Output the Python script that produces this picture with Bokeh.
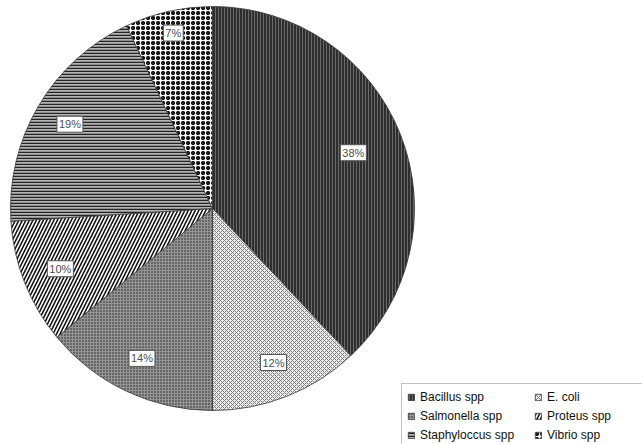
import math
from bokeh.plotting import figure
from bokeh.models import ColumnDataSource, Range1d
from bokeh.core.properties import value
from bokeh.embed import file_html
from bokeh.resources import INLINE

# ---- data ----
names = ["Bacillus spp", "E. coli", "Salmonella spp", "Proteus spp", "Staphyloccus spp", "Vibrio spp"]
percents = [38, 12, 14, 10, 19, 7]

# ---- styles ----
fill_colors = ["#2e2e2e", "#ececec", "#959595", "#ffffff", "#b4b4b4", "#ffffff"]
hatch_patterns = ["vertical_line", "diagonal_cross", "dot", "right_diagonal_line", "horizontal_line", "ring"]
hatch_colors = ["#6a6a6a", "#808080", "#202020", "#111111", "#222222", "#000000"]
hatch_scales = [3, 4, 3, 7, 3, 5]
hatch_weights = [1, 1, 0.8, 1.6, 1.5, 1.6]
label_radius = [0.75, 0.82, 0.82, 0.81, 0.82, 0.89]

W, H = 642, 444
CX, CY, R = 212, H - 208, 202
FONT = "Liberation Sans"

total = sum(percents)
starts, ends, lx, ly, labels = [], [], [], [], []
cum = 0.0
for i, v in enumerate(percents):
    a0 = cum / total
    cum += v
    a1 = cum / total
    starts.append(math.pi / 2 - a0 * 2 * math.pi)
    ends.append(math.pi / 2 - a1 * 2 * math.pi)
    mid = (a0 + a1) / 2 * 2 * math.pi
    lx.append(CX + label_radius[i] * R * math.sin(mid))
    ly.append(CY + label_radius[i] * R * math.cos(mid))
    labels.append(f"{v}%")

src = ColumnDataSource(dict(
    name=names, start=starts, end=ends,
    fill=fill_colors, hp=hatch_patterns, hc=hatch_colors, hs=hatch_scales, hw=hatch_weights,
))
lsrc = ColumnDataSource(dict(x=lx, y=ly, text=labels))

p = figure(width=W, height=H, output_backend="svg", toolbar_location=None,
           x_range=Range1d(0, W), y_range=Range1d(0, H),
           x_axis_type=None, y_axis_type=None, min_border=0)
p.outline_line_color = None
p.grid.visible = False
p.background_fill_color = "white"

p.wedge(x=CX, y=CY, radius=R, start_angle="start", end_angle="end", direction="clock",
        source=src, fill_color="fill", hatch_pattern="hp", hatch_color="hc",
        hatch_scale="hs", hatch_weight="hw", line_color="#3a3a3a", line_width=0.8,
        legend_field="name")

p.text(x="x", y="y", text="text", source=lsrc, text_align="center", text_baseline="middle",
       text_font=value(FONT), text_font_size="11px", text_color="#505050",
       background_fill_color="white", border_line_color="#555555", border_line_width=1,
       padding=2)

leg = p.legend[0]
leg.orientation = "horizontal"
leg.ncols = 2
leg.location = (401, -4)
leg.padding = 5
leg.spacing = 4
leg.margin = 0
leg.label_height = 15
leg.label_width = 110
leg.glyph_width = 8
leg.glyph_height = 8
leg.label_standoff = 5
leg.label_text_font = FONT
leg.label_text_font_size = "12px"
leg.label_text_color = "#111111"
leg.border_line_color = "#888888"
leg.border_line_width = 1
leg.background_fill_color = "white"
leg.background_fill_alpha = 1

open("out.html", "w").write(file_html(p, INLINE))
